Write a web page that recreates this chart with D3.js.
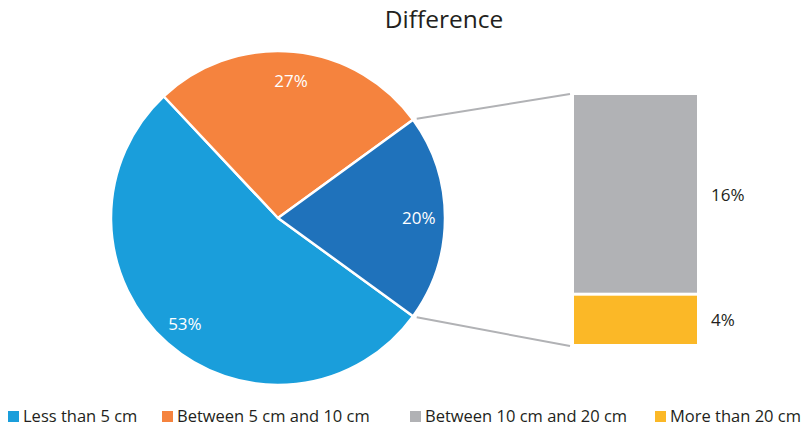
<!DOCTYPE html>
<html><head><meta charset="utf-8">
<script src="https://cdn.jsdelivr.net/npm/d3@7"></script>
<style>body{margin:0;background:#fff}svg{display:block}text{font-family:"Open Sans",sans-serif}</style>
</head><body>
<script>
const pieCategories = ["Less than 5 cm", "Between 5 cm and 10 cm", "Others"];
const pieValues = [53, 27, 20];
const barCategories = ["Between 10 cm and 20 cm", "More than 20 cm"];
const barValues = [16, 4];
const legendLabels = ["Less than 5 cm", "Between 5 cm and 10 cm", "Between 10 cm and 20 cm", "More than 20 cm"];
const pieColors = ["#1a9edb", "#f5833e", "#1f72bb"];
const barColors = ["#b1b2b5", "#fbb827"];
const legendColors = ["#1a9edb", "#f5833e", "#b1b2b5", "#fbb827"];

const W = 809, H = 428;
const svg = d3.select("body").append("svg").attr("width", W).attr("height", H);

svg.append("text").attr("x", 444).attr("y", 28).attr("text-anchor", "middle")
  .attr("font-size", 24.5).attr("fill", "#231f20").text("Difference");

const cx = 278, cy = 218, R = 167;
const start = 126 * Math.PI / 180;
const pie = d3.pie().sort(null).startAngle(start).endAngle(start + 2 * Math.PI);
const arcs = pie(pieValues);
const arc = d3.arc().innerRadius(0).outerRadius(R);
const g = svg.append("g").attr("transform", `translate(${cx},${cy})`);
g.selectAll("path").data(arcs).join("path").attr("d", arc)
  .attr("fill", (d, i) => pieColors[i]).attr("stroke", "#fff").attr("stroke-width", 2.5).attr("stroke-linejoin", "round");

const labelR = [0.843, 0.825, 0.843];
g.selectAll("text.pl").data(arcs).join("text").attr("class", "pl")
  .attr("transform", (d, i) => {
    const a = (d.startAngle + d.endAngle) / 2;
    const r = R * labelR[i];
    return `translate(${r * Math.sin(a)},${-r * Math.cos(a) + 6})`;
  })
  .attr("text-anchor", "middle").attr("font-size", 17).attr("fill", "#fff")
  .text(d => d.value + "%");

// bar
const bx = 574, bw = 123, by0 = 95, by1 = 344;
const total = d3.sum(barValues);
const y = d3.scaleLinear().domain([0, total]).range([by0, by1]);
let cum = 0;
const segs = barValues.map((v, i) => { const s = { v, i, a: cum, b: cum + v }; cum += v; return s; });
svg.selectAll("rect.bar").data(segs).join("rect").attr("class", "bar")
  .attr("x", bx).attr("width", bw)
  .attr("y", d => y(d.a) + (d.i > 0 ? 1.5 : 0))
  .attr("height", d => y(d.b) - y(d.a) - 1.5)
  .attr("fill", d => barColors[d.i]);
svg.selectAll("text.bl").data(segs).join("text").attr("class", "bl")
  .attr("x", 711).attr("y", d => (y(d.a) + y(d.b)) / 2 + 6.5)
  .attr("font-size", 17).attr("fill", "#231f20").text(d => d.v + "%");

// connectors
const other = arcs[2];
const p1 = [cx + (R + 2) * Math.sin(other.startAngle), cy - (R + 2) * Math.cos(other.startAngle)];
const p2 = [cx + (R + 2) * Math.sin(other.endAngle), cy - (R + 2) * Math.cos(other.endAngle)];
svg.append("line").attr("x1", p1[0] + 2).attr("y1", p1[1]).attr("x2", bx - 4).attr("y2", by0 - 1)
  .attr("stroke", "#b1b2b5").attr("stroke-width", 2);
svg.append("line").attr("x1", p2[0] + 2).attr("y1", p2[1]).attr("x2", bx - 4).attr("y2", by1 + 2)
  .attr("stroke", "#b1b2b5").attr("stroke-width", 2);

// legend
const legX = [8, 162, 410, 655];
const lg = svg.selectAll("g.leg").data(legendLabels).join("g").attr("class", "leg")
  .attr("transform", (d, i) => `translate(${legX[i]},406)`);
lg.append("rect").attr("width", 11).attr("height", 11).attr("y", 5).attr("fill", (d, i) => legendColors[i]);
lg.append("text").attr("x", 15).attr("y", 16).attr("font-size", 16.5).attr("fill", "#231f20").text(d => d);
</script>
</body></html>
